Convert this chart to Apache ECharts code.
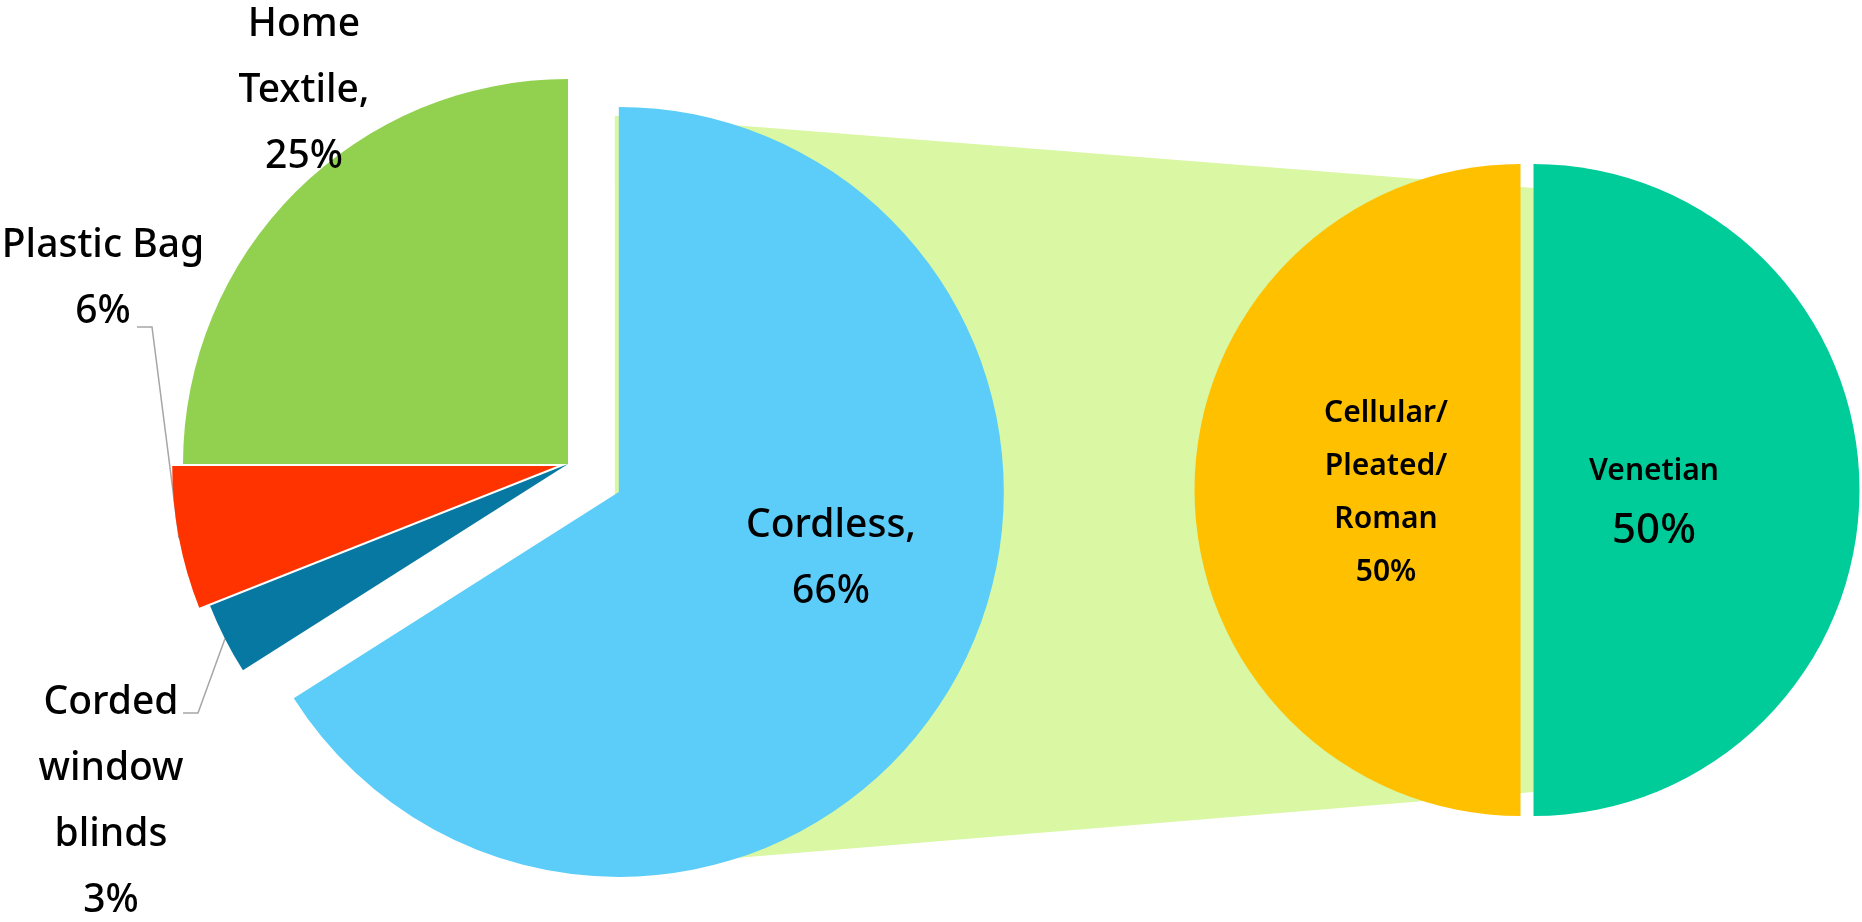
<!DOCTYPE html>
<html>
<head>
<meta charset="utf-8">
<title>Pie of pie</title>
<script src="https://cdn.jsdelivr.net/npm/echarts@6/dist/echarts.min.js"></script>
<style>
  html, body { margin: 0; padding: 0; background: #fff; }
  #chart { width: 1862px; height: 922px; }
</style>
</head>
<body>
<div id="chart"></div>
<script>
// main pie
const mainNames = ['Cordless,', 'Corded\nwindow\nblinds', 'Plastic Bag', 'Home\nTextile,'];
const mainValues = [66, 3, 6, 25];
// split of the cordless slice
const subNames = ['Venetian', 'Cellular/\nPleated/\nRoman'];
const subValues = [50, 50];

const mainColors = ['#5BCDF8', '#0778A2', '#FF3300', '#92D050'];
const subColors = ['#00CC99', '#FFC000'];

// layout in px
const MAIN = { cx: 568, cy: 464, r: 385, explode: [58, 0, 11, 0] };
const SUB = { cx: 1527, cy: 490, r: 326, explode: [6.5, 6.5] };

const mainLabelPos = [[831, 559], [111, 802], [103, 279], [304, 91]];
const mainElbow = [null, [198, 713, 183], [152, 327, 137], null];
const subLabelPos = [[1654, 503], [1386, 493]];

const FONT = '"Noto Sans", "Open Sans", sans-serif';

// mid angle of each slice, clockwise from 12 o'clock
function midAngles(values) {
    const total = values.reduce((a, b) => a + b, 0);
    let acc = 0;
    return values.map(v => {
        const a = (acc + v / 2) / total * Math.PI * 2;
        acc += v;
        return a;
    });
}

function slice(names, values, colors, pie, idx, labelPos, elbow, label) {
    const a = midAngles(values)[idx];
    const cx = pie.cx + pie.explode[idx] * Math.sin(a);
    const cy = pie.cy - pie.explode[idx] * Math.cos(a);
    return {
        type: 'pie',
        center: [cx, cy],
        radius: pie.r,
        startAngle: 90,
        clockwise: true,
        avoidLabelOverlap: false,
        silent: true,
        animation: false,
        emphasis: { disabled: true },
        data: values.map((v, j) => ({
            name: names[j],
            value: v,
            itemStyle: { color: j === idx ? colors[j] : 'transparent', borderWidth: 0 },
            label: { show: j === idx },
            labelLine: { show: j === idx && elbow != null }
        })),
        label: Object.assign({
            position: 'outside',
            color: '#000',
            fontFamily: FONT,
            width: 320,
            overflow: 'none',
            align: 'center'
        }, label),
        labelLine: { lineStyle: { color: '#A6A6A6', width: 1.5 } },
        labelLayout: function (p) {
            if (p.dataIndex !== idx) return;
            const out = { x: labelPos[0], y: labelPos[1], align: 'center', verticalAlign: 'middle' };
            if (elbow) {
                const x0 = cx + pie.r * Math.sin(a);
                const y0 = cy - pie.r * Math.cos(a);
                out.labelLinePoints = [[x0, y0], [elbow[0], elbow[1]], [elbow[2], elbow[1]]];
            }
            return out;
        }
    };
}

const mainLabel = { fontSize: 39, fontWeight: 500, lineHeight: 66, formatter: '{b}\n{c}%' };
const series = [];
mainValues.forEach((v, i) => {
    series.push(slice(mainNames, mainValues, mainColors, MAIN, i, mainLabelPos[i], mainElbow[i], mainLabel));
});
series.push(slice(subNames, subValues, subColors, SUB, 0, subLabelPos[0], null, {
    formatter: '{n|{b}}\n{v|{c}%}',
    rich: {
        n: { fontFamily: FONT, fontSize: 30, fontWeight: 600, lineHeight: 56, color: '#000' },
        v: { fontFamily: FONT, fontSize: 42, fontWeight: 500, lineHeight: 64, color: '#000' }
    }
}));
series.push(slice(subNames, subValues, subColors, SUB, 1, subLabelPos[1], null, {
    fontSize: 30, fontWeight: 600, lineHeight: 53, formatter: '{b}\n{c}%'
}));

// connector band from the cordless slice to the second pie
const cordA = midAngles(mainValues)[0];
const cordX = MAIN.cx + MAIN.explode[0] * Math.sin(cordA);
const cordY = MAIN.cy - MAIN.explode[0] * Math.cos(cordA);
const bandL = cordX - 4, bandLH = MAIN.r * 0.977;
const bandR = SUB.cx + SUB.explode[0], bandRH = SUB.r * 0.926;

const chart = echarts.init(document.getElementById('chart'));
chart.setOption({
    backgroundColor: '#fff',
    animation: false,
    graphic: [{
        type: 'polygon',
        z: 0,
        silent: true,
        shape: {
            points: [
                [bandL, cordY - bandLH], [bandR, SUB.cy - bandRH],
                [bandR, SUB.cy + bandRH], [bandL, cordY + bandLH]
            ]
        },
        style: { fill: '#DAF7A3' }
    }],
    series: series
});
</script>
</body>
</html>
